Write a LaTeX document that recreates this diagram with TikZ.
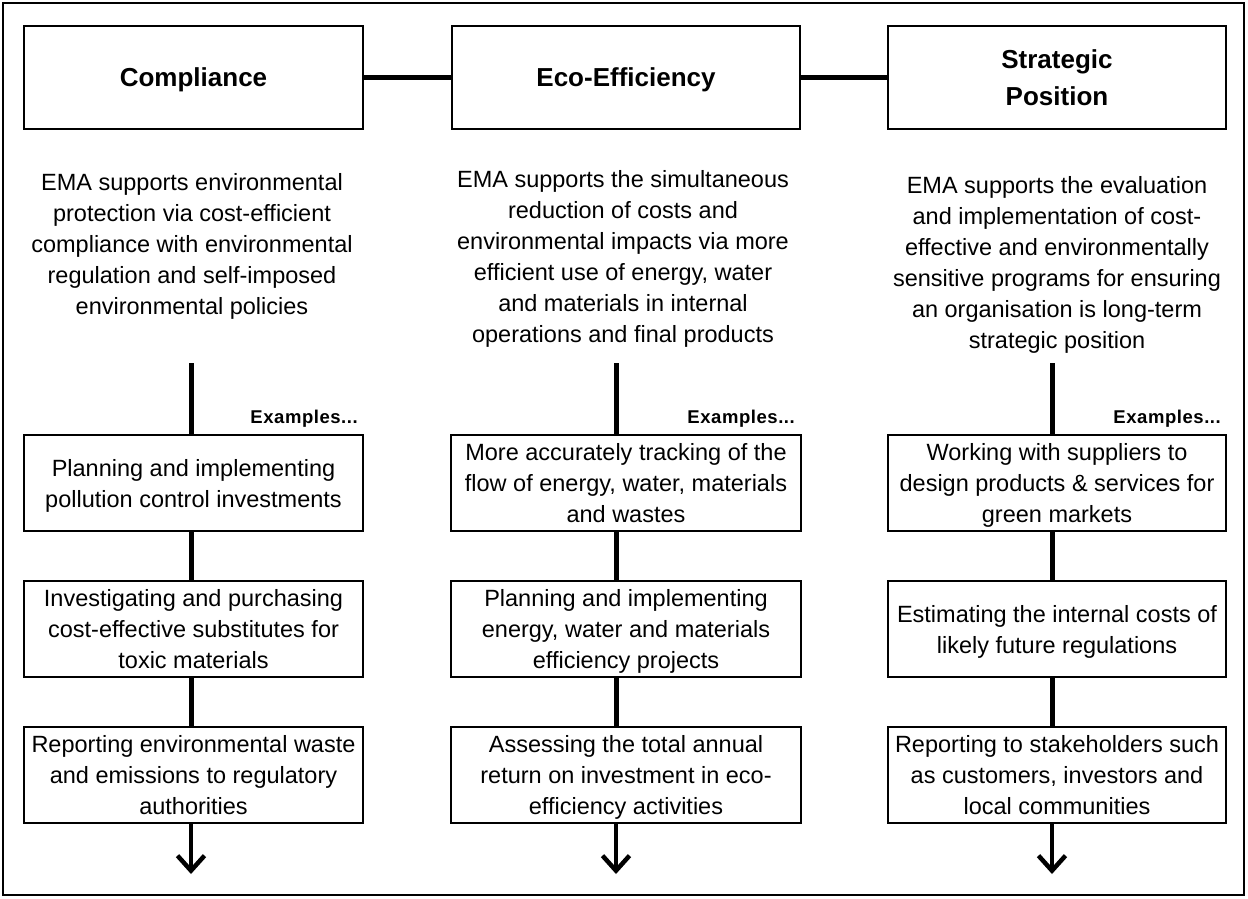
\documentclass[tikz,border=0pt]{standalone}
\usepackage{fontspec}
\setmainfont{Liberation Sans}
\usetikzlibrary{arrows.meta}
\begin{document}
\begin{tikzpicture}[x=1pt,y=-1pt,
  box/.style={draw, line width=2pt, inner sep=0pt, align=center, minimum height=96pt, text depth=0pt, font=\fontsize{23.5}{31}\selectfont},
  titlebox/.style={draw, line width=2pt, inner sep=0pt, align=center, minimum height=103pt, text depth=0pt, font=\bfseries\fontsize{26}{37}\selectfont},
  desc/.style={inner sep=0pt, align=center, anchor=north, font=\fontsize{23.5}{31}\selectfont},
  link/.style={line width=5pt},
  extext/.style={anchor=base east, inner sep=0pt, font=\bfseries\fontsize{18.5}{20}\selectfont\addfontfeature{LetterSpace=3}},
  outarrow/.style={line width=4.5pt, -{Straight Barb[length=15pt,width=27pt]}}
]
\useasboundingbox (0,0) rectangle (1248,898);
\draw[line width=1.5pt] (3,3) rectangle (1244,895);

% column line positions
\coordinate (L1) at (191,0);
\coordinate (L2) at (616,0);
\coordinate (L3) at (1052,0);

% title boxes
\node[titlebox, minimum width=339pt] (t1) at (193.5,77.5) {Compliance};
\node[titlebox, minimum width=348pt] (t2) at (626,77.5) {Eco-Efficiency};
\node[titlebox, minimum width=338pt] (t3) at (1057,77.5) {Strategic\\Position};
\draw[link] (t1.east) -- (t2.west);
\draw[link] (t2.east) -- (t3.west);

% descriptions
\node[desc] (d1) at (192,173) {EMA supports environmental\\protection via cost-efficient\\compliance with environmental\\regulation and self-imposed\\environmental policies};
\node[desc] (d2) at (623,170) {EMA supports the simultaneous\\reduction of costs and\\environmental impacts via more\\efficient use of energy, water\\and materials in internal\\operations and final products};
\node[desc] (d3) at (1057,176) {EMA supports the evaluation\\and implementation of cost-\\effective and environmentally\\sensitive programs for ensuring\\an organisation is long-term\\strategic position};

% example boxes column 1
\node[box, minimum width=339pt] (a1) at (193.5,483) {Planning and implementing\\pollution control investments};
\node[box, minimum width=339pt] (a2) at (193.5,629) {Investigating and purchasing\\cost-effective substitutes for\\toxic materials};
\node[box, minimum width=339pt] (a3) at (193.5,775) {Reporting environmental waste\\and emissions to regulatory\\authorities};
% column 2
\node[box, minimum width=350pt] (b1) at (626,483) {More accurately tracking of the\\flow of energy, water, materials\\and wastes};
\node[box, minimum width=350pt] (b2) at (626,629) {Planning and implementing\\energy, water and materials\\efficiency projects};
\node[box, minimum width=350pt] (b3) at (626,775) {Assessing the total annual\\return on investment in eco-\\efficiency activities};
% column 3
\node[box, minimum width=338pt] (c1) at (1057,483) {Working with suppliers to\\design products \& services for\\green markets};
\node[box, minimum width=338pt] (c2) at (1057,629) {Estimating the internal costs of\\likely future regulations};
\node[box, minimum width=338pt] (c3) at (1057,775) {Reporting to stakeholders such\\as customers, investors and\\local communities};

% Examples labels
\node[extext] (ea) at ([xshift=-6pt,yshift=11pt]a1.north east) {Examples...};
\node[extext] (eb) at ([xshift=-7pt,yshift=11pt]b1.north east) {Examples...};
\node[extext] (ec) at ([xshift=-6pt,yshift=11pt]c1.north east) {Examples...};

% free ends
\coordinate (s1) at (191,363);
\coordinate (s2) at (616,363);
\coordinate (s3) at (1052,363);
\coordinate (e1) at (191,874);
\coordinate (e2) at (616,874);
\coordinate (e3) at (1052,874);

% vertical connectors
\draw[link] (s1) -- (a1.north -| L1);
\draw[link] (a1.south -| L1) -- (a2.north -| L1);
\draw[link] (a2.south -| L1) -- (a3.north -| L1);
\draw[outarrow] (a3.south -| L1) -- (e1);

\draw[link] (s2) -- (b1.north -| L2);
\draw[link] (b1.south -| L2) -- (b2.north -| L2);
\draw[link] (b2.south -| L2) -- (b3.north -| L2);
\draw[outarrow] (b3.south -| L2) -- (e2);

\draw[link] (s3) -- (c1.north -| L3);
\draw[link] (c1.south -| L3) -- (c2.north -| L3);
\draw[link] (c2.south -| L3) -- (c3.north -| L3);
\draw[outarrow] (c3.south -| L3) -- (e3);
\end{tikzpicture}
\end{document}
